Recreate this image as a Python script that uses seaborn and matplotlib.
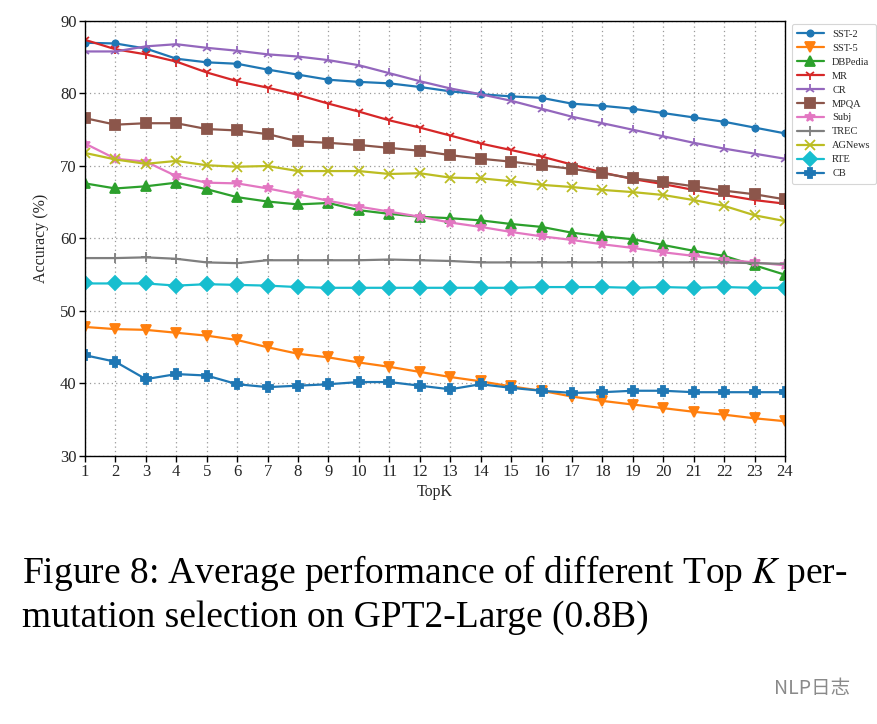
import matplotlib
matplotlib.use("Agg")
import matplotlib.pyplot as plt
import seaborn as sns
import pandas as pd

topk = list(range(1, 25))

sst2 = [87.0, 86.9, 86.2, 84.8, 84.3, 84.1, 83.3, 82.6, 81.9, 81.6, 81.4, 80.9,
        80.3, 79.9, 79.6, 79.4, 78.6, 78.3, 77.9, 77.3, 76.7, 76.1, 75.3, 74.5]
sst5 = [47.8, 47.5, 47.4, 47.0, 46.6, 46.0, 45.0, 44.1, 43.6, 42.9, 42.3, 41.6,
        40.9, 40.3, 39.6, 39.0, 38.2, 37.6, 37.1, 36.6, 36.1, 35.7, 35.2, 34.8]
dbpedia = [67.6, 66.9, 67.2, 67.7, 66.8, 65.7, 65.1, 64.7, 64.9, 63.9, 63.4, 63.0,
           62.8, 62.5, 62.0, 61.6, 60.8, 60.3, 59.9, 59.1, 58.3, 57.6, 56.3, 55.0]
mr = [87.4, 86.1, 85.4, 84.4, 82.9, 81.7, 80.8, 79.8, 78.6, 77.5, 76.3, 75.3,
      74.2, 73.1, 72.2, 71.3, 70.2, 69.1, 68.2, 67.5, 66.7, 66.0, 65.3, 64.8]
cr = [85.8, 85.8, 86.5, 86.8, 86.3, 85.9, 85.4, 85.1, 84.6, 83.9, 82.8, 81.7,
      80.7, 79.9, 79.0, 77.9, 76.8, 75.9, 75.0, 74.1, 73.2, 72.4, 71.7, 71.0]
mpqa = [76.6, 75.7, 75.9, 75.9, 75.1, 74.9, 74.4, 73.4, 73.2, 72.9, 72.5, 72.1,
        71.5, 71.0, 70.6, 70.1, 69.6, 69.0, 68.3, 67.8, 67.2, 66.6, 66.1, 65.4]
subj = [73.1, 71.0, 70.6, 68.6, 67.7, 67.6, 66.9, 66.1, 65.2, 64.4, 63.7, 63.0,
        62.2, 61.6, 60.9, 60.3, 59.8, 59.2, 58.7, 58.1, 57.6, 57.1, 56.7, 56.3]
trec = [57.3, 57.3, 57.4, 57.2, 56.7, 56.6, 57.0, 57.0, 57.0, 57.0, 57.1, 57.0,
        56.9, 56.7, 56.7, 56.7, 56.7, 56.7, 56.7, 56.7, 56.7, 56.7, 56.6, 56.5]
agnews = [71.8, 70.9, 70.3, 70.7, 70.1, 69.9, 70.0, 69.3, 69.3, 69.3, 68.9, 69.0,
          68.4, 68.3, 67.9, 67.4, 67.1, 66.7, 66.4, 66.0, 65.3, 64.5, 63.2, 62.4]
rte = [53.8, 53.8, 53.8, 53.5, 53.7, 53.6, 53.5, 53.3, 53.2, 53.2, 53.2, 53.2,
       53.2, 53.2, 53.2, 53.3, 53.3, 53.3, 53.2, 53.3, 53.2, 53.3, 53.2, 53.2]
cb = [43.9, 43.0, 40.6, 41.3, 41.1, 39.9, 39.5, 39.7, 39.9, 40.2, 40.2, 39.7,
      39.2, 39.9, 39.4, 39.0, 38.7, 38.8, 39.0, 39.0, 38.8, 38.8, 38.8, 38.8]

names = ["SST-2", "SST-5", "DBPedia", "MR", "CR", "MPQA", "Subj", "TREC",
         "AGNews", "RTE", "CB"]
series = [sst2, sst5, dbpedia, mr, cr, mpqa, subj, trec, agnews, rte, cb]

markers = ["o", "v", "^", "1", "2", "s", "*", "+", "x", "D", "P"]
msizes = [4.5, 7.5, 7.5, 7.5, 7.5, 7.5, 7.5, 7.5, 7, 7.5, 7.5]

df = pd.DataFrame({
    "TopK": topk * len(names),
    "Accuracy": [v for s in series for v in s],
    "Dataset": [n for n in names for _ in topk],
})

sns.set_theme(style="white")
plt.rcParams["font.family"] = ["Liberation Serif", "DejaVu Serif"]
plt.rcParams["mathtext.fontset"] = "stix"

fig = plt.figure(figsize=(8.78, 7.24), dpi=100)
ax = fig.add_axes([85 / 878, 1 - 456 / 724, 700 / 878, 435 / 724])

palette = sns.color_palette("tab10", 10) + [sns.color_palette("tab10")[0]]
for i, name in enumerate(names):
    sub = df[df["Dataset"] == name]
    sns.lineplot(data=sub, x="TopK", y="Accuracy", ax=ax, color=palette[i],
                 marker=markers[i], markersize=msizes[i], linewidth=1.6,
                 markeredgecolor=palette[i], markeredgewidth=1.3,
                 label=name)

ax.set_xlim(1, 24)
ax.set_ylim(30, 90)
ax.set_xticks(topk)
ax.set_yticks(range(30, 91, 10))
ax.grid(True, linestyle=(0, (1, 2.5)), color="#999999", linewidth=0.9)
for sp in ax.spines.values():
    sp.set_color("black")
    sp.set_linewidth(1.0)
ax.tick_params(axis="both", which="major", direction="out", length=4,
               width=1, color="black", labelsize=12, pad=2,
               bottom=True, left=True)
ax.set_xlabel("TopK", fontsize=11.5, labelpad=3)
ax.set_ylabel("Accuracy (%)", fontsize=11.5, labelpad=8)

leg = ax.legend(loc="upper left", bbox_to_anchor=(1.005, 1.0), fontsize=7.5,
                frameon=True, handlelength=2.6, borderaxespad=0.3,
                labelspacing=0.45, borderpad=0.5)
leg.get_frame().set_edgecolor("#cccccc")
leg.get_frame().set_linewidth(0.8)

fig.text(22 / 878, 1 - 583 / 724,
         "Figure 8: Average performance of different Top $K$ per-",
         fontsize=27, ha="left", va="baseline", color="black")
fig.text(22 / 878, 1 - 627 / 724,
         "mutation selection on GPT2-Large (0.8B)",
         fontsize=27, ha="left", va="baseline", color="black")
fig.text(850 / 878, 1 - 694 / 724, "NLP日志", fontsize=14, ha="right",
         va="baseline", color="#8a8a8a",
         family=["Noto Sans CJK SC", "DejaVu Sans"])

fig.savefig("out.png", dpi=100)
